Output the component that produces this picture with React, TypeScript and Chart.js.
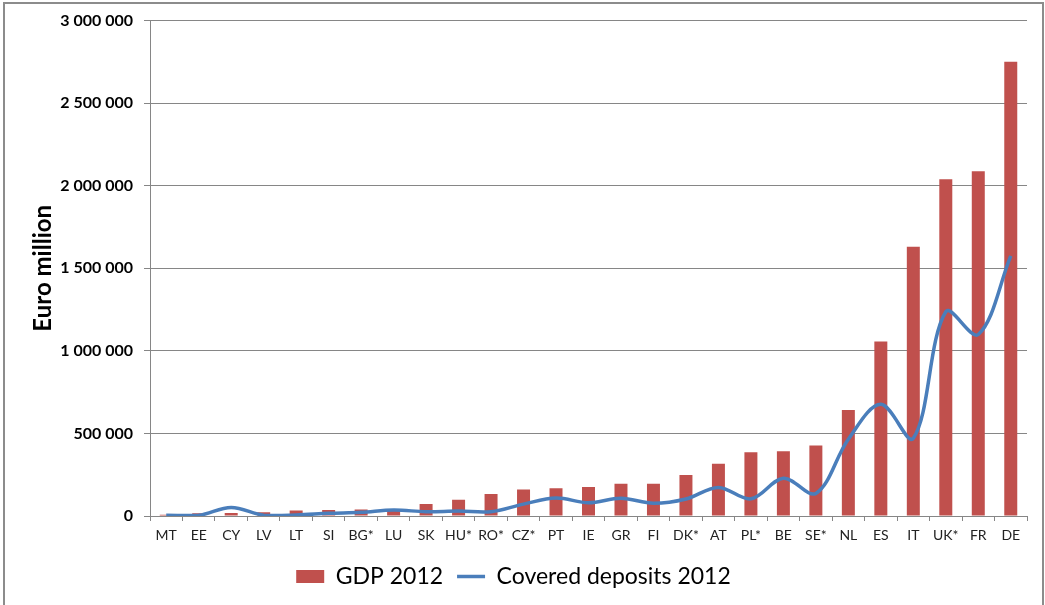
import React, { useEffect, useRef } from "react";
import { Chart, registerables } from "chart.js";

Chart.register(...registerables);

const categories = [
  "MT", "EE", "CY", "LV", "LT", "SI", "BG*", "LU", "SK", "HU*", "RO*", "CZ*", "PT",
  "IE", "GR", "FI", "DK*", "AT", "PL*", "BE", "SE*", "NL", "ES", "IT", "UK*", "FR", "DE",
];

const gdp2012 = [
  7000, 17000, 18000, 22000, 33000, 36000, 40000, 43000, 72000, 99000, 133000, 161000, 168000,
  175000, 195000, 195000, 249000, 316000, 386000, 392000, 427000, 642000, 1056000, 1630000,
  2040000, 2088000, 2751000,
];

const coveredDeposits2012 = [
  5000, 4000, 52000, 5000, 6000, 16000, 22000, 36000, 26000, 30000, 26000, 72000, 109000,
  80000, 107000, 77000, 103000, 173000, 104000, 229000, 137000, 465000, 676000, 471000,
  1237000, 1099000, 1575000,
];

const yTickValues = [0, 500000, 1000000, 1500000, 2000000, 2500000, 3000000];

const fmt = (v: number) => String(v).replace(/\B(?=(\d{3})+(?!\d))/g, " ");

export default function App() {
  const ref = useRef<HTMLCanvasElement | null>(null);

  useEffect(() => {
    if (!ref.current) return;
    const chart = new Chart(ref.current, {
      type: "bar",
      data: {
        labels: categories,
        datasets: [
          {
            type: "bar",
            label: "GDP 2012",
            data: gdp2012,
            backgroundColor: "#C0504D",
            borderWidth: 0,
            barPercentage: 0.4,
            categoryPercentage: 1,
            order: 1,
            pointStyle: "rect",
          } as any,
          {
            type: "line",
            label: "Covered deposits 2012",
            data: coveredDeposits2012,
            borderColor: "#4A7EBB",
            backgroundColor: "#4A7EBB",
            borderWidth: 3.5,
            pointRadius: 0,
            tension: 0.35,
            fill: false,
            order: 0,
            pointStyle: "line",
          } as any,
        ],
      },
      options: {
        responsive: false,
        animation: false,
        layout: { padding: { left: 0, right: 18, top: 20, bottom: 7 } },
        plugins: {
          tooltip: { enabled: false },
          legend: {
            position: "bottom",
            labels: {
              usePointStyle: true,
              pointStyleWidth: 28,
              boxHeight: 13,
              padding: 14,
              color: "#000",
              font: { family: "Lato", size: 23 },
              sort: (a: any, b: any) => a.datasetIndex - b.datasetIndex,
            },
          },
        },
        scales: {
          x: {
            grid: {
              offset: true,
              drawOnChartArea: false,
              tickLength: 5,
              tickColor: "#868686",
            },
            border: { display: true, color: "#868686", width: 1 },
            ticks: {
              autoSkip: false,
              maxRotation: 0,
              minRotation: 0,
              padding: 6,
              color: "#222",
              font: { family: "Lato", size: 14 },
            },
            afterFit: (scale: any) => {
              scale.height = 35;
            },
          },
          y: {
            min: 0,
            max: 3000000,
            afterBuildTicks: (scale: any) => {
              scale.ticks = yTickValues.map((v) => ({ value: v }));
            },
            grid: {
              color: "#868686",
              tickLength: 6,
              tickColor: "#868686",
              lineWidth: 1,
            },
            border: { display: true, color: "#868686", width: 1 },
            ticks: {
              padding: 11,
              color: "#000",
              font: { family: "Lato", size: 16, weight: "bold" },
              callback: (v: any) => fmt(Number(v)),
            },
            title: {
              display: true,
              text: "Euro million",
              color: "#000",
              font: { family: "Lato", size: 24, weight: "bold" },
              padding: { top: 29, bottom: 0 },
            },
            afterFit: (scale: any) => {
              scale.width = 150;
            },
          },
        },
      } as any,
    });
    return () => chart.destroy();
  }, []);

  return (
    <div style={{ position: "fixed", left: 0, top: 0, width: 1045, height: 605, background: "#fff", overflow: "hidden" }}>
      <div
        style={{
          position: "absolute",
          left: 3,
          top: 2,
          width: 1037,
          height: 700,
          border: "2px solid #8c8c8c",
          boxSizing: "content-box",
        }}
      />
      <canvas ref={ref} width={1045} height={605} style={{ position: "absolute", left: 0, top: 0 }} />
    </div>
  );
}
